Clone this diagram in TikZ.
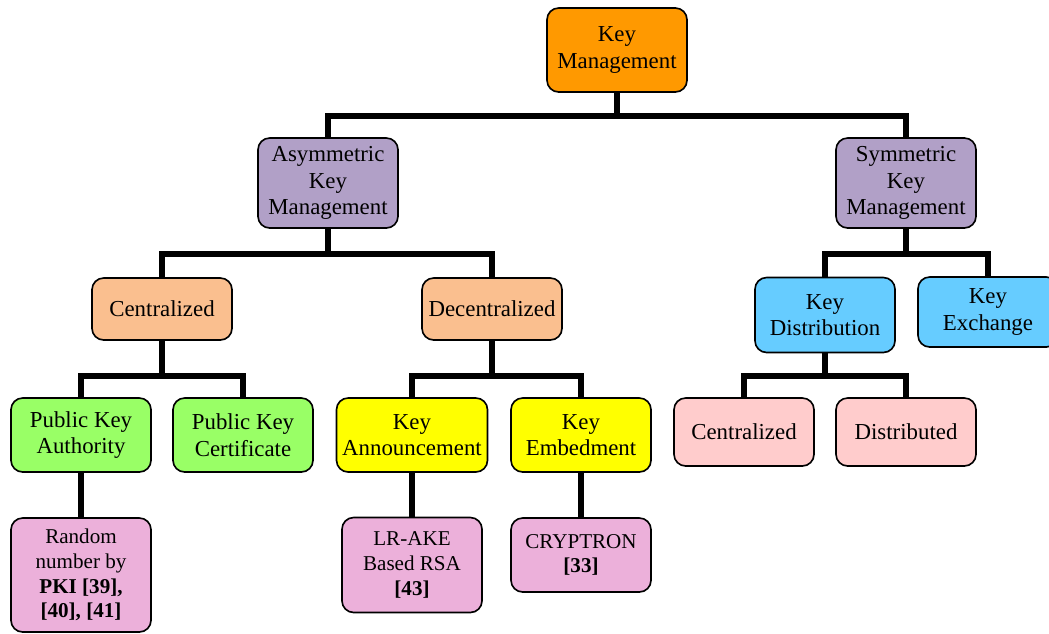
\documentclass[tikz,border=0pt]{standalone}
\usepackage{fontspec}
\setmainfont{Liberation Serif}
\usetikzlibrary{positioning,calc}
\definecolor{kmOrange}{HTML}{FF9900}
\definecolor{kmPurple}{HTML}{B1A0C7}
\definecolor{kmPeach}{HTML}{FABF8F}
\definecolor{kmBlue}{HTML}{66CCFF}
\definecolor{kmGreen}{HTML}{99FF66}
\definecolor{kmYellow}{HTML}{FFFF00}
\definecolor{kmPink}{HTML}{ECB0DA}
\definecolor{kmRose}{HTML}{FFCCCC}

\begin{document}
\begin{tikzpicture}[
  x=0.03cm, y=-0.03cm,
  box/.style={rectangle, rounded corners=3.5mm, draw=black, line width=1.4pt, minimum width=4.2cm, align=center, inner sep=2pt, font=\fontsize{19.5}{22.5}\selectfont},
  leaf/.style={box, fill=kmPink, font=\fontsize{18}{21}\selectfont},
  bus/.style={line width=5pt, draw=black}
]
\useasboundingbox (0,0) rectangle (1049,633);

\node[box, fill=kmOrange, minimum height=2.52cm] (km) at (617,50) {Key\\Management};
\node[box, fill=kmPurple, minimum height=2.7cm] (akm) at (328,183) {Asymmetric\\Key\\Management};
\node[box, fill=kmPurple, minimum height=2.7cm] (skm) at (906,183) {Symmetric\\Key\\Management};

\node[box, fill=kmPeach, minimum height=1.86cm] (cent) at (162,309) {Centralized};
\node[box, fill=kmPeach, minimum height=1.86cm] (decent) at (492,309) {Decentralized};
\node[box, fill=kmBlue, minimum height=2.25cm] (kdist) at (825,315) {Key\\Distribution};
\node[box, fill=kmBlue, minimum height=2.1cm] (kexch) at (988,312) {Key\\Exchange};

\node[box, fill=kmGreen, minimum height=2.22cm] (pka) at (81,435) {Public Key\\Authority};
\node[box, fill=kmGreen, minimum height=2.22cm] (pkc) at (243,435) {Public Key\\Certificate};
\node[box, fill=kmYellow, minimum height=2.22cm, minimum width=4.53cm] (kann) at (412,435) {Key\\Announcement};
\node[box, fill=kmYellow, minimum height=2.22cm] (kemb) at (581,435) {Key\\Embedment};
\node[box, fill=kmRose, minimum height=2.04cm] (dcent) at (744,432) {Centralized};
\node[box, fill=kmRose, minimum height=2.04cm] (ddist) at (906,432) {Distributed};

\node[leaf, minimum height=3.42cm] (rnd) at (81,575) {Random\\number by\\\textbf{PKI [39],}\\\textbf{[40], [41]}};
\node[leaf, minimum height=2.85cm] (lrake) at (412,565) {LR-AKE\\Based RSA\\\textbf{[43]}};
\node[leaf, minimum height=2.22cm] (crypt) at (581,555) {CRYPTRON\\\textbf{[33]}};

% bus levels
\coordinate (bus1) at (0,116);
\coordinate (bus2) at (0,254);
\coordinate (bus3) at (0,376);

\draw[bus] (km.south) -- (km |- bus1);
\draw[bus] (akm.north) |- (bus1 -| skm) -- (skm.north);

\draw[bus] (akm.south) -- (akm |- bus2);
\draw[bus] (cent.north) |- (bus2 -| decent) -- (decent.north);
\draw[bus] (skm.south) -- (skm |- bus2);
\draw[bus] (kdist.north) |- (bus2 -| kexch) -- (kexch.north);

\draw[bus] (cent.south) -- (cent |- bus3);
\draw[bus] (pka.north) |- (bus3 -| pkc) -- (pkc.north);
\draw[bus] (decent.south) -- (decent |- bus3);
\draw[bus] (kann.north) |- (bus3 -| kemb) -- (kemb.north);
\draw[bus] (kdist.south) -- (kdist |- bus3);
\draw[bus] (dcent.north) |- (bus3 -| ddist) -- (ddist.north);

\draw[bus] (pka) -- (rnd);
\draw[bus] (kann) -- (lrake);
\draw[bus] (kemb) -- (crypt);
\end{tikzpicture}
\end{document}
